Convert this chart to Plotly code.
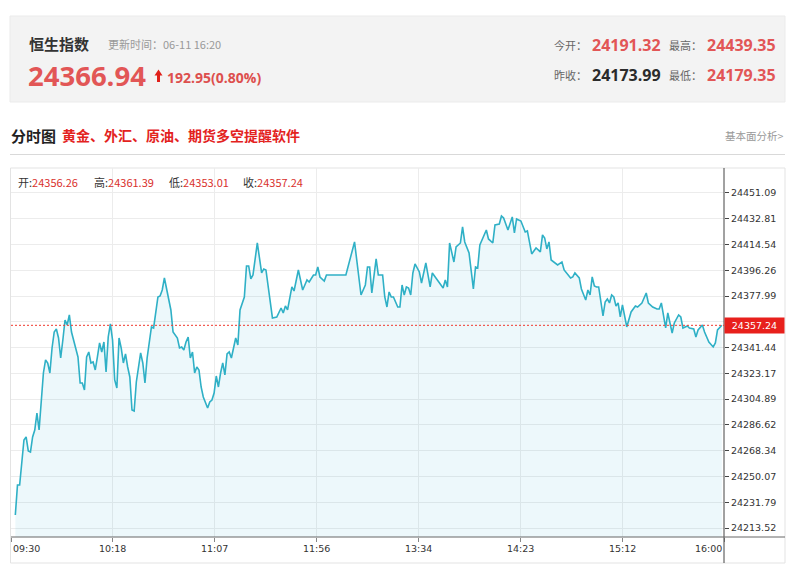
import plotly.graph_objects as go

# ---------------- data ----------------
minutes = [2,3,4,5,6,7,8,9,10,11,12,13,14,15,16,17,18,19,20,21,22,23,24,25,26,27,28,30,31,32,33,34,35,36,37,38,39,40,
           41,42,43,44,45,46,47,48,49,50,51,52,53,54,55,56,57,58,59,60,61,62,63,64,65,66,67,68,69,70,71,72,73,74,75,77,
           78,79,80,81,82,83,84,85,86,87,88,89,91,92,93,94,95,96,97,98,99,100,101,
           102,104,105,106,108,109,110,111,112,114,116,117,118,121,123,125,126,127,128,130,131,133,135,136,137,138,140,
           141,142,143,145,146,155,159,162,164,165,166,167,169,170,172,173,174,175,176,177,179,180,181,182,183,184,185,
           186,187,189,190,192,194,195,198,200,201,202,203,205,206,208,209,210,212,214,215,216,217,218,220,221,223,224,
           226,227,228,230,232,233,234,236,238,239,240,241,243,245,246,247,248,249,250,252,253,255,256,259,260,261,263,
           264,266,267,268,269,270,271,272,274,275,276,277,278,279,280,281,282,283,285,286,287,289,290,292,294,295,297,
           299,300,301,303,304,305,306,307,309,310,311,313,314,316,317,318,320,321,323,325,326,327,329]
prices = [24222.74,24244.02,24244.02,24259.62,24275.93,24278.06,24268.13,24267.42,24278.06,24283.02,24295.08,24283.02,
          24304.30,24323.45,24332.67,24330.54,24323.45,24341.18,24352.52,24354.65,24348.27,24334.08,24346.85,24361.03,
          24357.49,24364.58,24352.52,24341.89,24334.79,24316.35,24316.35,24311.39,24334.79,24338.34,24330.54,24331.25,
          24325.57,24334.79,24344.72,24338.34,24345.43,24324.16,24348.98,24358.20,24346.85,24318.48,24312.81,24348.27,
          24341.18,24330.54,24336.92,24327.70,24320.61,24297.21,24296.50,24317.06,24326.99,24337.63,24330.54,24316.35,
          24334.08,24344.72,24356.07,24355.36,24366.00,24377.35,24378.05,24382.31,24390.82,24382.31,24375.22,24368.13,
          24352.52,24348.27,24341.18,24341.89,24339.76,24345.43,24348.98,24334.08,24338.34,24323.45,24327.70,24325.57,
          24313.52,24306.43,24298.62,24302.88,24304.30,24309.26,24321.32,24313.52,24323.45,24330.54,24322.03,24336.92,
          24338.34,
          24334.08,24348.27,24343.30,24368.13,24377.35,24399.33,24399.33,24390.11,24392.95,24415.64,24394.37,24397.20,
          24396.49,24362.45,24363.16,24369.54,24366.00,24370.96,24368.13,24384.44,24381.60,24396.49,24382.31,24385.86,
          24389.40,24387.98,24392.95,24392.95,24398.62,24391.53,24388.69,24392.95,24392.95,24416.35,24378.76,24385.86,
          24398.62,24398.62,24380.18,24404.29,24392.95,24392.95,24377.35,24370.25,24380.89,24377.35,24377.35,24370.25,
          24370.25,24385.86,24378.76,24384.44,24383.73,24378.76,24394.37,24400.75,24395.08,24387.27,24401.46,24384.44,
          24394.37,24387.98,24383.73,24389.40,24384.44,24415.64,24402.17,24412.81,24415.64,24426.99,24416.35,24408.55,
          24383.02,24398.62,24397.91,24414.22,24417.77,24424.86,24418.48,24415.64,24428.41,24429.12,24434.79,24433.37,
          24424.86,24434.08,24422.73,24432.66,24431.24,24423.44,24424.15,24415.64,24407.84,24412.10,24409.26,24421.32,
          24419.19,24411.39,24416.35,24403.59,24401.46,24400.04,24402.17,24396.49,24390.82,24391.53,24394.37,24390.82,
          24383.02,24375.22,24382.31,24378.76,24391.53,24385.15,24384.44,24384.44,24363.87,24373.80,24375.93,24373.09,
          24378.76,24377.35,24370.96,24373.09,24363.16,24371.67,24356.07,24361.03,24366.71,24370.96,24370.25,24373.09,
          24380.18,24373.09,24370.25,24368.83,24368.83,24373.09,24355.36,24366.00,24358.91,24351.81,24358.91,24364.58,
          24363.16,24355.36,24356.78,24355.36,24354.65,24348.98,24353.94,24357.49,24352.52,24345.43,24341.89,24344.72,
          24353.94,24357.24]

y_ticks = [24213.52, 24231.79, 24250.07, 24268.34, 24286.62, 24304.89, 24323.17, 24341.44, 24359.72,
           24377.99, 24396.26, 24414.54, 24432.81, 24451.09]
x_tick_labels = ["09:30", "10:18", "11:07", "11:56", "13:34", "14:23", "15:12", "16:00"]
session_minutes = 330
last_close = 24357.24

bar_info = [("开:", "24356.26"), ("高:", "24361.39"), ("低:", "24353.01"), ("收:", "24357.24")]
index_name = "恒生指数"
update_time = "更新时间：06-11 16:20"
current_price = "24366.94"
change_text = "192.95(0.80%)"
today_open = "24191.32"
prev_close = "24173.99"
day_high = "24439.35"
day_low = "24179.35"

# ---------------- layout helpers (page pixel coords) ----------------
OFF = 8                      # body margin of the html page
W, H = 800 - OFF, 582 - OFF
L, R, T, B = 11, 724, 168, 537   # plot area in page pixels


def px(x):
    return (x - L) / (R - L)


def py(y):
    return (B - y) / (B - T)


CJK = "Noto Sans CJK SC"
NUM = "Open Sans, Noto Sans CJK SC"
TICKF = "DejaVu Sans"
RED = "#e25656"

fig = go.Figure()
fig.add_trace(go.Scatter(
    x=minutes, y=prices, mode="lines",
    line=dict(color="#2fb0c6", width=1.6),
    fill="tozeroy", fillcolor="rgba(60,180,215,0.09)",
    hoverinfo="skip", showlegend=False,
))

x_tick_pos = [i * session_minutes / (len(x_tick_labels) - 1) for i in range(len(x_tick_labels))]
y_tick_text = ["" if abs(v - last_close) < 5 else f"{v:.2f}" for v in y_ticks]

fig.update_layout(
    width=W, height=H,
    margin=dict(l=L - OFF, r=W - (R - OFF), t=T - OFF, b=H - (B - OFF), pad=0),
    paper_bgcolor="white", plot_bgcolor="rgba(0,0,0,0)",
    showlegend=False,
    xaxis=dict(range=[0, session_minutes], tickvals=x_tick_pos, showticklabels=False,
               ticks="outside", ticklen=4, tickcolor="#888",
               showgrid=True, gridcolor="#ececec", gridwidth=1,
               zeroline=False, showline=False, fixedrange=True),
    yaxis=dict(range=[24207.14, 24468.8], side="right", tickvals=y_ticks,
               ticktext=y_tick_text,
               ticks="outside", ticklen=4, tickcolor="#444",
               tickfont=dict(family=TICKF, size=9.5, color="#333"),
               showgrid=True, gridcolor="#ececec", gridwidth=1,
               zeroline=False, showline=False, fixedrange=True),
)

shapes = []
shapes.append(dict(type="rect", xref="paper", yref="paper", x0=px(10), x1=px(785), y0=py(16), y1=py(102),
                   fillcolor="#f3f3f3", line=dict(color="#ebebeb", width=1), layer="below"))
shapes.append(dict(type="line", xref="paper", yref="paper", x0=px(10), x1=px(785), y0=py(154.5), y1=py(154.5),
                   line=dict(color="#d9d9d9", width=1)))
shapes.append(dict(type="rect", xref="paper", yref="paper", x0=px(10.5), x1=px(785), y0=py(168), y1=py(563),
                   line=dict(color="#e3e3e3", width=1), layer="below"))
shapes.append(dict(type="line", xref="paper", yref="paper", x0=1, x1=1, y0=py(168), y1=py(563),
                   line=dict(color="#444", width=1)))
shapes.append(dict(type="line", xref="paper", yref="paper", x0=0, x1=px(785), y0=0, y1=0,
                   line=dict(color="#666", width=1)))
shapes.append(dict(type="line", xref="paper", yref="y", x0=0, x1=1, y0=last_close, y1=last_close,
                   line=dict(color="#f0392e", width=1, dash="2px,2px")))
ax0, ax1, ay_tip, ay_mid, ay_bot = 154.5, 162.5, 69.5, 75.5, 82
path = (f"M {px(ax0)},{py(ay_mid)} L {px((ax0+ax1)/2)},{py(ay_tip)} L {px(ax1)},{py(ay_mid)} "
        f"L {px(160)},{py(ay_mid)} L {px(160)},{py(ay_bot)} L {px(157)},{py(ay_bot)} L {px(157)},{py(ay_mid)} Z")
shapes.append(dict(type="path", xref="paper", yref="paper", path=path, fillcolor="#e0201a",
                   line=dict(width=0)))
fig.update_layout(shapes=shapes)

ann = []


def text(x, y, s, size, color, family=CJK, anchor="left", bold=False):
    ann.append(dict(x=px(x), y=py(y), xref="paper", yref="paper", text=(f"<b>{s}</b>" if bold else s),
                    showarrow=False, xanchor=anchor, yanchor="middle",
                    font=dict(family=family, size=size, color=color)))


text(27, 43, index_name, 15, "#333", bold=True)
text(106, 44, update_time, 11, "#999")
text(26, 75, current_price, 27.5, RED, family=NUM, bold=True)
text(165, 77, change_text, 14, "#dd4f4d", family=NUM, bold=True)

text(552, 45, "今开：", 11, "#666")
text(590, 45, today_open, 16, RED, family=NUM, bold=True)
text(667, 45, "最高：", 11, "#666")
text(705, 45, day_high, 16, RED, family=NUM, bold=True)
text(552, 75, "昨收：", 11, "#666")
text(590, 75, prev_close, 16, "#2b2b2b", family=NUM, bold=True)
text(667, 75, "最低：", 11, "#666")
text(705, 75, day_low, 16, RED, family=NUM, bold=True)

text(9, 135, "分时图", 15, "#222", bold=True)
text(60, 135, "黄金、外汇、原油、期货多空提醒软件", 14, "#e3231e", bold=True)
text(786, 135, "基本面分析&gt;", 10.5, "#999", anchor="right")

info_x = [16, 92, 167, 241]
for (lab, val), xx in zip(bar_info, info_x):
    ann.append(dict(x=px(xx), y=py(182), xref="paper", yref="paper",
                    text=f"<span style='color:#333'>{lab}</span><span style='color:#d9302c'>{val}</span>",
                    showarrow=False, xanchor="left", yanchor="middle",
                    font=dict(family=CJK + ", " + TICKF, size=11)))

for i, (pos, lab) in enumerate(zip(x_tick_pos, x_tick_labels)):
    anchor = "left" if i == 0 else ("right" if i == len(x_tick_labels) - 1 else "center")
    ann.append(dict(x=pos, y=py(548), xref="x", yref="paper", text=lab, showarrow=False,
                    xanchor=anchor, yanchor="middle",
                    font=dict(family=TICKF, size=9.5, color="#333")))

ann.append(dict(x=1, y=last_close, xref="paper", yref="y", text=f"{last_close:.2f}", showarrow=False,
                xanchor="left", yanchor="middle", bgcolor="#e8201c", borderpad=2, width=55,
                font=dict(family=TICKF, size=9.5, color="white")))

fig.update_layout(annotations=ann)
fig.write_html("out.html")
